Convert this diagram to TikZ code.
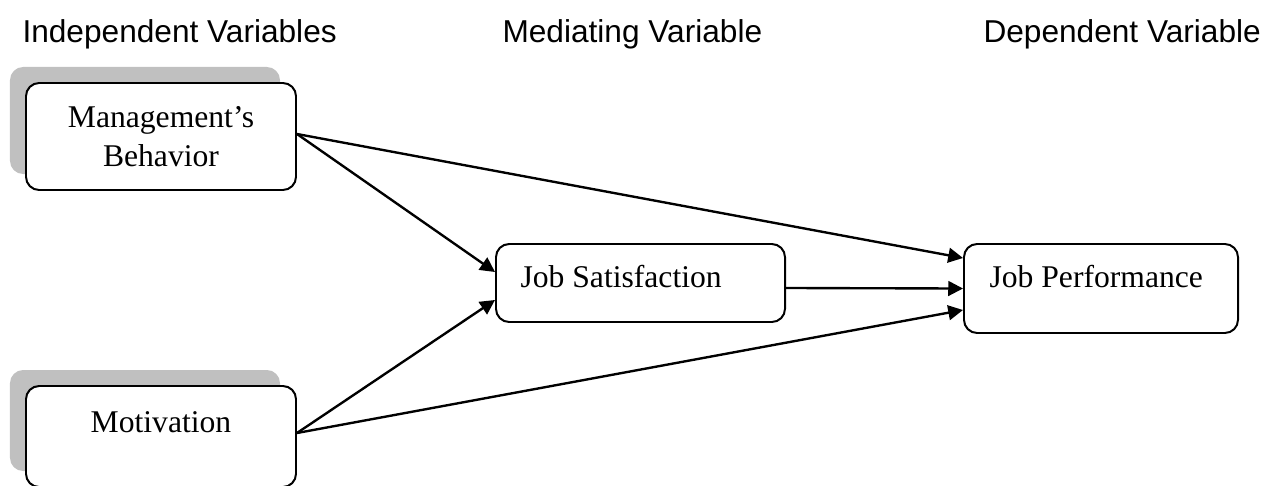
\documentclass[tikz,border=0pt]{standalone}
\usepackage{fontspec}
\setmainfont{Liberation Serif}
\newfontfamily\headfont{Liberation Sans}
\usetikzlibrary{calc,arrows.meta,shadows}
\definecolor{shadowgray}{RGB}{192,192,192}
\tikzset{
  box/.style={draw=black, line width=0.75pt, rounded corners=5pt, fill=white, inner sep=0pt},
  shadowbox/.style={box, drop shadow={shadow xshift=-6.07pt, shadow yshift=6.07pt, fill=shadowgray, opacity=1}},
  txt/.style={font=\fontsize{12}{14.8}\selectfont, inner sep=0pt},
  head/.style={font=\headfont\fontsize{12}{14.4}\selectfont, inner sep=0pt},
  conn/.style={line width=0.9pt, -{Triangle[length=5.6pt, width=5.6pt]}}
}
\begin{document}
\begin{tikzpicture}[x=0.3794pt, y=-0.3794pt]
\path[use as bounding box] (0,0) rectangle (1276,485);
\clip (0,0) rectangle (1276,485);
% headings
\node[head, anchor=base west] (h1) at (22,42) {Independent Variables};
\node[head, anchor=base west] (h2) at (502,42) {Mediating Variable};
\node[head, anchor=base west] (h3) at (983,42) {Dependent Variable};
% boxes
\node[shadowbox, minimum width=102.44pt, minimum height=40.6pt] (mb) at (161,136.5) {};
\node[txt, align=center, anchor=north] (mbt) at ($(mb.north)+(0,23.5)$) {Management’s\\Behavior};
\node[shadowbox, minimum width=102.44pt, minimum height=38.32pt] (mo) at (161,436.5) {};
\node[txt, anchor=base] (mot) at (161,432) {Motivation};
\node[box, minimum width=109.65pt, minimum height=29.59pt] (js) at (640.5,283) {};
\node[txt, anchor=base west] (jst) at (520,287) {Job Satisfaction};
\node[box, minimum width=103.96pt, minimum height=33.77pt] (jp) at (1101,288.5) {};
\node[txt, anchor=base west] (jpt) at (989,287) {Job Performance};
% connectors
\draw[conn] ($(mb.east)+(0,-2.5)$) -- ($(js.west)+(0,-11)$);
\draw[conn] ($(mb.east)+(0,-2.5)$) -- ($(jp.west)+(0,-30.5)$);
\draw[conn] ($(mo.east)+(0,-3.5)$) -- ($(js.west)+(0,17)$);
\draw[conn] ($(mo.east)+(0,-3.5)$) -- ($(jp.west)+(0,21.5)$);
\draw[conn] ($(js.east)+(0,5)$) -- (jp.west);
\end{tikzpicture}
\end{document}
